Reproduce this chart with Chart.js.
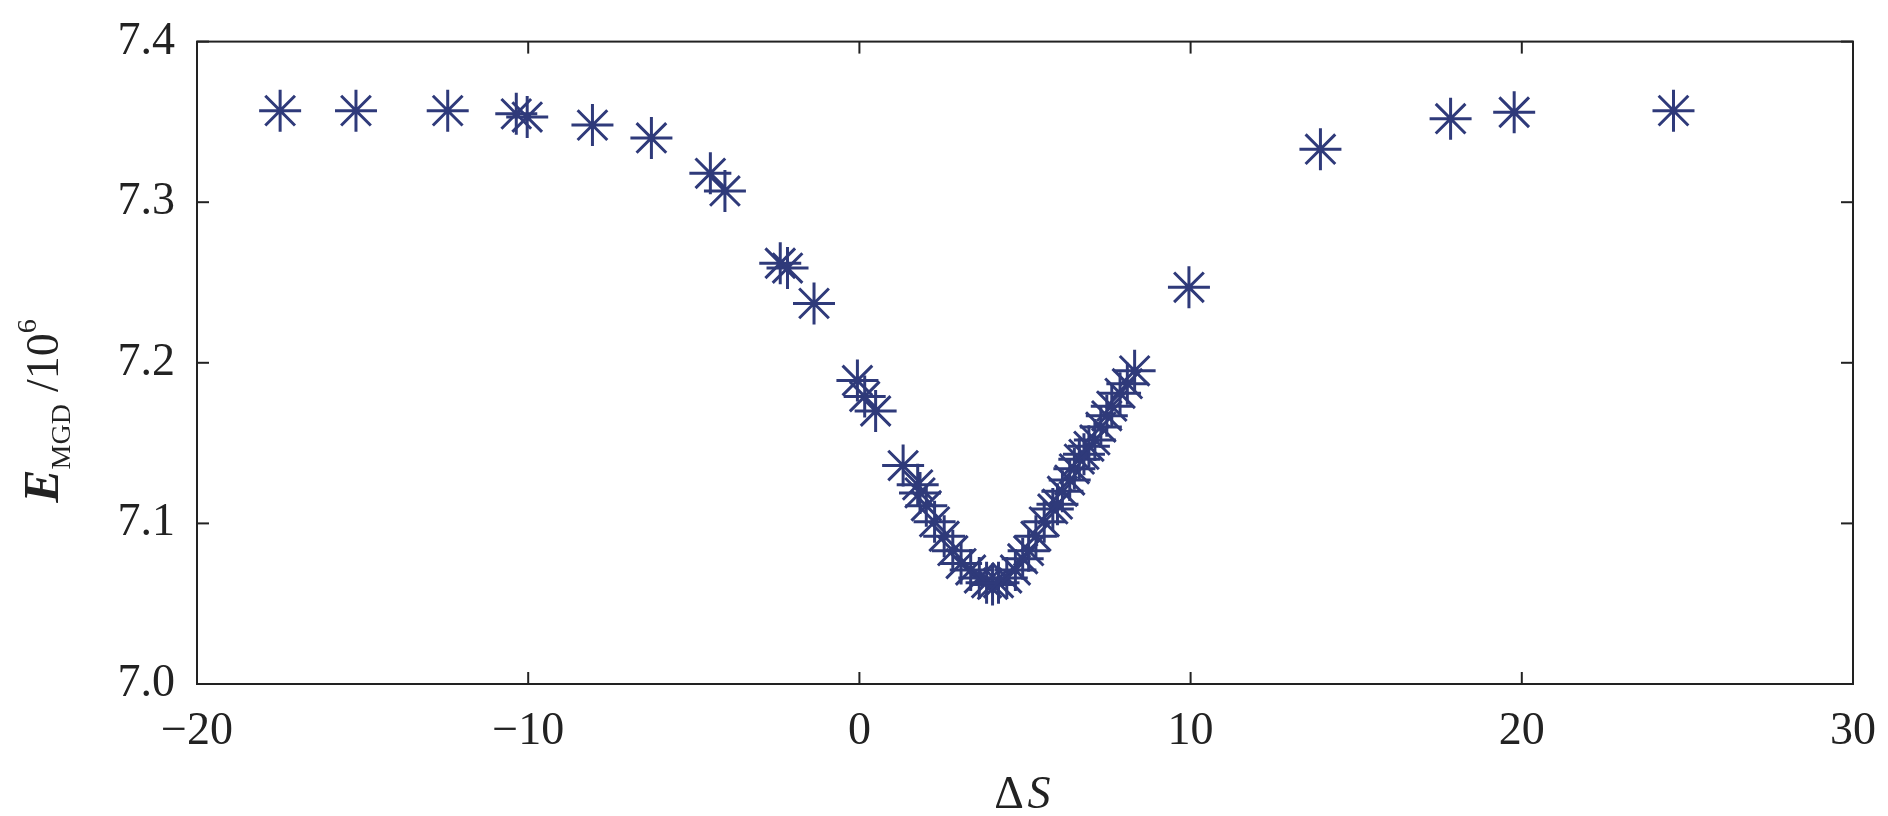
<!DOCTYPE html>
<html>
<head>
<meta charset="utf-8">
<script src="https://cdn.jsdelivr.net/npm/chart.js@4"></script>
<style>
  body { margin: 0; background: #fff; }
  #wrap { width: 1888px; height: 816px; }
</style>
</head>
<body>
<div id="wrap"><canvas id="scatter"></canvas></div>
<script>
// Data
const deltaS = [-17.49, -15.2, -12.43, -10.36, -10.03, -8.06, -6.28, -4.5, -4.06, -2.39, -2.17, -1.37,
  -0.06, 0.16, 0.49, 1.32, 1.76, 1.83, 2.02, 2.27, 2.56, 2.82, 3.07, 3.36, 3.62, 3.84, 4.02, 4.2,
  4.45, 4.71, 4.93, 5.11, 5.33, 5.58, 5.84, 5.98, 6.13, 6.35, 6.49, 6.64, 6.78, 6.93, 7.11, 7.29,
  7.47, 7.62, 7.87, 8.09, 8.31, 9.95, 13.92, 17.85, 19.77, 24.58];
const energy = [7.357, 7.357, 7.357, 7.355, 7.353, 7.348, 7.340, 7.318, 7.307, 7.262, 7.259, 7.237,
  7.189, 7.179, 7.170, 7.136, 7.124, 7.119, 7.111, 7.101, 7.092, 7.083, 7.075, 7.071, 7.066, 7.063, 7.062, 7.063,
  7.066, 7.071, 7.078, 7.083, 7.092, 7.101, 7.109, 7.112, 7.120, 7.127, 7.134, 7.140, 7.143, 7.148, 7.152, 7.160,
  7.167, 7.173, 7.181, 7.187, 7.195, 7.247, 7.333, 7.352, 7.356, 7.357];
const xTicks = [-20, -10, 0, 10, 20, 30];
const yTicks = [7.0, 7.1, 7.2, 7.3, 7.4];

const markColor = '#2f3a7a';
const serif = '"Liberation Serif", "DejaVu Serif", serif';

// frame, inward ticks and axis titles
const framePlugin = {
  id: 'frame',
  afterDraw(chart) {
    const { ctx, chartArea: a, scales } = chart;
    ctx.save();
    ctx.strokeStyle = '#222';
    ctx.lineWidth = 2;
    ctx.strokeRect(a.left, a.top, a.right - a.left, a.bottom - a.top);
    xTicks.forEach(v => {
      const px = scales.x.getPixelForValue(v);
      ctx.beginPath(); ctx.moveTo(px, a.bottom); ctx.lineTo(px, a.bottom - 12); ctx.stroke();
      ctx.beginPath(); ctx.moveTo(px, a.top); ctx.lineTo(px, a.top + 12); ctx.stroke();
    });
    yTicks.forEach(v => {
      const py = scales.y.getPixelForValue(v);
      ctx.beginPath(); ctx.moveTo(a.left, py); ctx.lineTo(a.left + 12, py); ctx.stroke();
      ctx.beginPath(); ctx.moveTo(a.right, py); ctx.lineTo(a.right - 12, py); ctx.stroke();
    });
    ctx.fillStyle = '#222';
    // x title
    ctx.textAlign = 'center';
    ctx.textBaseline = 'alphabetic';
    ctx.font = '46px ' + serif;
    const cx = (a.left + a.right) / 2;
    ctx.fillText('Δ', cx - 16, 808);
    ctx.font = 'italic 46px ' + serif;
    ctx.fillText('S', cx + 14, 808);
    // y title
    ctx.translate(58, (a.top + a.bottom) / 2);
    ctx.rotate(-Math.PI / 2);
    ctx.textAlign = 'left';
    let x0 = -140;
    ctx.font = 'italic bold 50px ' + serif;
    ctx.fillText('E', x0, 0);
    x0 += ctx.measureText('E').width;
    ctx.font = '28px ' + serif;
    ctx.fillText('MGD', x0, 12);
    x0 += ctx.measureText('MGD').width + 12;
    ctx.font = '46px ' + serif;
    ctx.fillText('/10', x0, 0);
    x0 += ctx.measureText('/10').width;
    ctx.font = '28px ' + serif;
    ctx.fillText('6', x0, -22);
    ctx.restore();
  }
};

new Chart(document.getElementById('scatter'), {
  type: 'scatter',
  data: {
    datasets: [{
      data: deltaS.map((x, i) => ({ x: x, y: energy[i] })),
      pointStyle: 'star',
      radius: 21,
      hoverRadius: 21,
      borderWidth: 3,
      borderColor: markColor,
      backgroundColor: markColor
    }]
  },
  options: {
    responsive: true,
    maintainAspectRatio: false,
    animation: false,
    layout: { padding: { top: 40, right: 28, left: 0, bottom: 0 } },
    plugins: { legend: { display: false }, tooltip: { enabled: false } },
    scales: {
      x: {
        min: -20, max: 30,
        afterBuildTicks: s => { s.ticks = xTicks.map(v => ({ value: v })); },
        afterFit: s => { s.height = 132; },
        grid: { display: false },
        border: { display: false },
        ticks: {
          padding: 12,
          color: '#222',
          font: { family: serif, size: 46 },
          callback: v => (v < 0 ? '\u2212' + Math.abs(v) : String(v))
        }
      },
      y: {
        min: 7.0, max: 7.4,
        afterBuildTicks: s => { s.ticks = yTicks.map(v => ({ value: v })); },
        afterFit: s => { s.width = 197; },
        grid: { display: false },
        border: { display: false },
        ticks: {
          padding: 14,
          color: '#222',
          font: { family: serif, size: 46 },
          callback: v => v.toFixed(1)
        }
      }
    }
  },
  plugins: [framePlugin]
});
</script>
</body>
</html>
